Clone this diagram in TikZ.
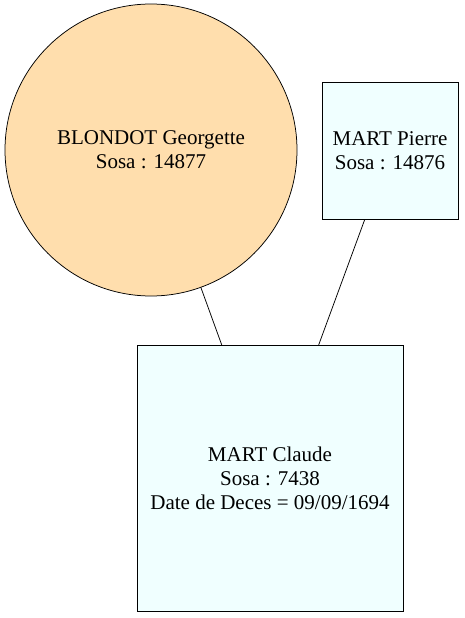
\documentclass[tikz,border=0pt]{standalone}
\usepackage{fontspec}
\setmainfont{Liberation Serif}
\usepackage{tikz}
\usetikzlibrary{
        arrows,
        positioning,
        shapes
    }
\definecolor{navajo}{HTML}{FFDEAD}
\definecolor{azur}{HTML}{F0FFFF}
\tikzset{person/.style={draw,line width=0.75pt,inner sep=0pt,align=center,font=\fontsize{21}{24}\selectfont}}

\begin{document}
\begin{tikzpicture}[x=1pt,y=-1pt,auto]
                \tikzset{woman/.style={person,circle,fill=navajo,minimum size=292pt}}
                \tikzset{man/.style={person,rectangle,fill=azur}}
                \useasboundingbox (0,0) rectangle (464,618);
                \node[woman] (georgette) at (151,150)  {BLONDOT Georgette\\Sosa : 14877};
                \node[man,minimum width=136pt,minimum height=137pt] (pierre) at (390,150.5)  {MART Pierre\\Sosa : 14876};
                \node[man,minimum width=266pt,minimum height=266pt] (claude) at (270,478.5)  {MART Claude\\Sosa : 7438\\Date de Deces = 09/09/1694};
                \path[-,line width=0.75pt]
                    (georgette)  edge  (claude)
                    (pierre)  edge  (claude)
                ;
            \end{tikzpicture}
\end{document}
